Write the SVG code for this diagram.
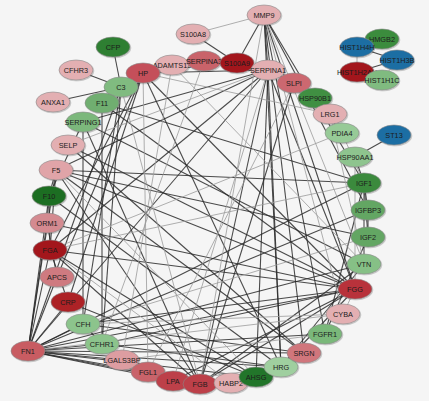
<svg xmlns="http://www.w3.org/2000/svg" width="429" height="401" viewBox="0 0 429 401">
<defs>
<filter id="sh" x="-20%" y="-30%" width="150%" height="170%"><feDropShadow dx="0.8" dy="0.9" stdDeviation="0.7" flood-color="#000" flood-opacity="0.25"/></filter>
</defs>
<style>
.d line{stroke:#2b2b2b;stroke-width:1.1;stroke-opacity:0.85}
.l line{stroke:#9c9c9c;stroke-width:0.9;stroke-opacity:0.9}
.node ellipse{stroke:#8a8a8a;stroke-width:0.6;filter:url(#sh)}
.node text{font-family:"Liberation Sans",Arial,sans-serif;font-size:7.3px;fill:#1c1c1c;text-anchor:middle}
.dg{fill:#2f7f33}.mg{fill:#6fae6f}.lg{fill:#97ca97}.dr{fill:#a3161e}.r{fill:#c4505a}.p{fill:#d48a90}.lp{fill:#e3afb2}.b{fill:#1f6ea3}
</style>
<rect width="429" height="401" fill="#f5f5f5"/>
<g id="connectors">
<g class="d">
<line x1="357" y1="47" x2="382" y2="39"/><line x1="357" y1="47" x2="397" y2="60"/><line x1="357" y1="72" x2="397" y2="60"/><line x1="357" y1="72" x2="382" y2="80"/>
<line x1="394" y1="135" x2="355" y2="157"/>
<line x1="113" y1="47" x2="121" y2="87"/><line x1="76" y1="70" x2="121" y2="87"/><line x1="53" y1="102" x2="121" y2="87"/>
<line x1="121" y1="87" x2="83" y2="324"/><line x1="121" y1="87" x2="102" y2="344"/><line x1="121" y1="87" x2="28" y2="351"/>
<line x1="193" y1="34" x2="237" y2="63"/><line x1="237" y1="63" x2="264" y2="15"/>
<line x1="264" y1="15" x2="268" y2="70"/><line x1="264" y1="15" x2="364" y2="183"/><line x1="264" y1="15" x2="368" y2="210"/><line x1="264" y1="15" x2="355" y2="289"/><line x1="264" y1="15" x2="325" y2="334"/><line x1="264" y1="15" x2="304" y2="353"/><line x1="264" y1="15" x2="281" y2="367"/>
<line x1="268" y1="70" x2="204" y2="61"/><line x1="268" y1="70" x2="143" y2="73"/><line x1="268" y1="70" x2="50" y2="250"/><line x1="268" y1="70" x2="200" y2="384"/><line x1="268" y1="70" x2="355" y2="289"/><line x1="268" y1="70" x2="56" y2="170"/><line x1="268" y1="70" x2="28" y2="351"/><line x1="268" y1="70" x2="83" y2="122"/><line x1="268" y1="70" x2="281" y2="367"/><line x1="268" y1="70" x2="256" y2="377"/><line x1="268" y1="70" x2="294" y2="83"/>
<line x1="143" y1="73" x2="204" y2="61"/><line x1="143" y1="73" x2="57" y2="277"/><line x1="143" y1="73" x2="68" y2="302"/><line x1="143" y1="73" x2="50" y2="250"/><line x1="143" y1="73" x2="355" y2="289"/><line x1="143" y1="73" x2="281" y2="367"/>
<line x1="364" y1="183" x2="368" y2="210"/><line x1="364" y1="183" x2="368" y2="237"/><line x1="364" y1="183" x2="364" y2="264"/><line x1="364" y1="183" x2="355" y2="157"/><line x1="364" y1="183" x2="28" y2="351"/><line x1="364" y1="183" x2="325" y2="334"/><line x1="364" y1="183" x2="56" y2="170"/>
<line x1="368" y1="210" x2="368" y2="237"/><line x1="368" y1="210" x2="28" y2="351"/>
<line x1="368" y1="237" x2="325" y2="334"/>
<line x1="364" y1="264" x2="28" y2="351"/><line x1="364" y1="264" x2="200" y2="384"/><line x1="364" y1="264" x2="281" y2="367"/>
<line x1="50" y1="250" x2="200" y2="384"/><line x1="50" y1="250" x2="355" y2="289"/><line x1="50" y1="250" x2="28" y2="351"/><line x1="50" y1="250" x2="49" y2="196"/><line x1="50" y1="250" x2="56" y2="170"/><line x1="50" y1="250" x2="68" y2="302"/><line x1="50" y1="250" x2="256" y2="377"/>
<line x1="200" y1="384" x2="355" y2="289"/><line x1="200" y1="384" x2="28" y2="351"/><line x1="200" y1="384" x2="56" y2="170"/><line x1="200" y1="384" x2="148" y2="372"/><line x1="200" y1="384" x2="83" y2="122"/><line x1="200" y1="384" x2="294" y2="83"/>
<line x1="355" y1="289" x2="28" y2="351"/><line x1="355" y1="289" x2="56" y2="170"/><line x1="355" y1="289" x2="281" y2="367"/><line x1="355" y1="289" x2="173" y2="381"/><line x1="355" y1="289" x2="102" y2="103"/><line x1="355" y1="289" x2="102" y2="344"/><line x1="355" y1="289" x2="68" y2="145"/><line x1="355" y1="289" x2="47" y2="223"/><line x1="355" y1="289" x2="83" y2="324"/>
<line x1="28" y1="351" x2="57" y2="277"/><line x1="28" y1="351" x2="68" y2="302"/><line x1="28" y1="351" x2="47" y2="223"/><line x1="28" y1="351" x2="49" y2="196"/><line x1="28" y1="351" x2="56" y2="170"/><line x1="28" y1="351" x2="83" y2="324"/><line x1="28" y1="351" x2="102" y2="344"/><line x1="28" y1="351" x2="122" y2="360"/><line x1="28" y1="351" x2="148" y2="372"/><line x1="28" y1="351" x2="173" y2="381"/><line x1="28" y1="351" x2="256" y2="377"/><line x1="28" y1="351" x2="281" y2="367"/><line x1="28" y1="351" x2="304" y2="353"/><line x1="28" y1="351" x2="325" y2="334"/>
<line x1="56" y1="170" x2="49" y2="196"/><line x1="56" y1="170" x2="368" y2="237"/><line x1="56" y1="170" x2="304" y2="353"/>
<line x1="49" y1="196" x2="83" y2="122"/><line x1="49" y1="196" x2="47" y2="223"/><line x1="49" y1="196" x2="281" y2="367"/>
<line x1="281" y1="367" x2="304" y2="353"/><line x1="281" y1="367" x2="102" y2="344"/>
<line x1="83" y1="324" x2="102" y2="344"/><line x1="83" y1="324" x2="304" y2="353"/>
<line x1="256" y1="377" x2="68" y2="302"/>
<line x1="68" y1="145" x2="304" y2="353"/>
<line x1="47" y1="223" x2="57" y2="277"/>
<line x1="315" y1="98" x2="342" y2="133"/>
<line x1="83" y1="122" x2="83" y2="324"/>
<line x1="102" y1="103" x2="102" y2="344"/><line x1="102" y1="103" x2="364" y2="183"/>
<line x1="83" y1="122" x2="364" y2="264"/>
</g>
<g class="l">
<line x1="357" y1="47" x2="357" y2="72"/><line x1="397" y1="60" x2="382" y2="80"/>
<line x1="193" y1="34" x2="264" y2="15"/>
<line x1="264" y1="15" x2="364" y2="264"/><line x1="264" y1="15" x2="343" y2="314"/><line x1="264" y1="15" x2="200" y2="384"/>
<line x1="268" y1="70" x2="173" y2="381"/><line x1="268" y1="70" x2="330" y2="114"/><line x1="268" y1="70" x2="68" y2="145"/>
<line x1="143" y1="73" x2="330" y2="114"/><line x1="143" y1="73" x2="148" y2="372"/>
<line x1="364" y1="183" x2="50" y2="250"/><line x1="364" y1="183" x2="342" y2="133"/>
<line x1="368" y1="237" x2="83" y2="324"/>
<line x1="50" y1="250" x2="231" y2="383"/><line x1="50" y1="250" x2="342" y2="133"/>
<line x1="200" y1="384" x2="121" y2="87"/>
<line x1="355" y1="289" x2="355" y2="157"/><line x1="355" y1="289" x2="343" y2="314"/>
<line x1="28" y1="351" x2="343" y2="314"/>
<line x1="56" y1="170" x2="256" y2="377"/>
<line x1="281" y1="367" x2="173" y2="381"/>
<line x1="83" y1="324" x2="343" y2="314"/>
<line x1="122" y1="360" x2="325" y2="334"/>
<line x1="294" y1="83" x2="148" y2="372"/>
<line x1="330" y1="114" x2="364" y2="264"/>
<line x1="172" y1="65" x2="122" y2="360"/><line x1="172" y1="65" x2="364" y2="264"/>
<line x1="204" y1="61" x2="102" y2="344"/>
</g>
</g>
<g class="node" id="n-MMP9"><ellipse cx="264" cy="15" rx="17" ry="10" class="lp"/><text x="264" y="17.6">MMP9</text></g>
<g class="node" id="n-S100A8"><ellipse cx="193" cy="34" rx="17" ry="10" class="lp"/><text x="193" y="36.6">S100A8</text></g>
<g class="node" id="n-CFP"><ellipse cx="113" cy="47" rx="17" ry="10" class="dg"/><text x="113" y="49.6">CFP</text></g>
<g class="node" id="n-CFHR3"><ellipse cx="76" cy="70" rx="17" ry="10" class="lp"/><text x="76" y="72.6">CFHR3</text></g>
<g class="node" id="n-ADAMTS13"><ellipse cx="172" cy="65" rx="17" ry="10" class="lp"/><text x="172" y="67.6">ADAMTS13</text></g>
<g class="node" id="n-SERPINA3"><ellipse cx="204" cy="61" rx="17" ry="10" class="r" style="fill:#c9646b"/><text x="204" y="63.6">SERPINA3</text></g>
<g class="node" id="n-HP"><ellipse cx="143" cy="73" rx="17" ry="10" class="r"/><text x="143" y="75.6">HP</text></g>
<g class="node" id="n-C3"><ellipse cx="121" cy="87" rx="17" ry="10" class="mg" style="fill:#80bb80"/><text x="121" y="89.6">C3</text></g>
<g class="node" id="n-ANXA1"><ellipse cx="53" cy="102" rx="17" ry="10" class="lp"/><text x="53" y="104.6">ANXA1</text></g>
<g class="node" id="n-F11"><ellipse cx="102" cy="103" rx="17" ry="10" class="mg"/><text x="102" y="105.6">F11</text></g>
<g class="node" id="n-SERPING1"><ellipse cx="83" cy="122" rx="17" ry="10" class="mg" style="fill:#7cb87c"/><text x="83" y="124.6">SERPING1</text></g>
<g class="node" id="n-S100A9"><ellipse cx="237" cy="63" rx="17" ry="10" class="dr"/><text x="237" y="65.6">S100A9</text></g>
<g class="node" id="n-SERPINA1"><ellipse cx="268" cy="70" rx="17" ry="10" class="lp"/><text x="268" y="72.6">SERPINA1</text></g>
<g class="node" id="n-SLPI"><ellipse cx="294" cy="83" rx="17" ry="10" class="r" style="fill:#cc6870"/><text x="294" y="85.6">SLPI</text></g>
<g class="node" id="n-HSP90B1"><ellipse cx="315" cy="98" rx="17" ry="10" class="dg" style="fill:#3f8f42"/><text x="315" y="100.6">HSP90B1</text></g>
<g class="node" id="n-LRG1"><ellipse cx="330" cy="114" rx="17" ry="10" class="lp"/><text x="330" y="116.6">LRG1</text></g>
<g class="node" id="n-PDIA4"><ellipse cx="342" cy="133" rx="17" ry="10" class="lg"/><text x="342" y="135.6">PDIA4</text></g>
<g class="node" id="n-HMGB2"><ellipse cx="382" cy="39" rx="17" ry="10" class="dg" style="fill:#3a8c3c"/><text x="382" y="41.6">HMGB2</text></g>
<g class="node" id="n-HIST1H4H"><ellipse cx="357" cy="47" rx="17" ry="10" class="b"/><text x="357" y="49.6">HIST1H4H</text></g>
<g class="node" id="n-HIST1H3B"><ellipse cx="397" cy="60" rx="17" ry="10" class="b"/><text x="397" y="62.6">HIST1H3B</text></g>
<g class="node" id="n-HIST1H2AH"><ellipse cx="357" cy="72" rx="17" ry="10" class="dr"/><text x="357" y="74.6">HIST1H2AH</text></g>
<g class="node" id="n-HIST1H1C"><ellipse cx="382" cy="80" rx="17" ry="10" class="mg" style="fill:#80bb80"/><text x="382" y="82.6">HIST1H1C</text></g>
<g class="node" id="n-ST13"><ellipse cx="394" cy="135" rx="17" ry="10" class="b"/><text x="394" y="137.6">ST13</text></g>
<g class="node" id="n-HSP90AA1"><ellipse cx="355" cy="157" rx="17" ry="10" class="lg" style="fill:#8ec48e"/><text x="355" y="159.6">HSP90AA1</text></g>
<g class="node" id="n-IGF1"><ellipse cx="364" cy="183" rx="17" ry="10" class="dg" style="fill:#3a8a3e"/><text x="364" y="185.6">IGF1</text></g>
<g class="node" id="n-IGFBP3"><ellipse cx="368" cy="210" rx="17" ry="10" class="mg" style="fill:#64a664"/><text x="368" y="212.6">IGFBP3</text></g>
<g class="node" id="n-IGF2"><ellipse cx="368" cy="237" rx="17" ry="10" class="mg" style="fill:#64a664"/><text x="368" y="239.6">IGF2</text></g>
<g class="node" id="n-VTN"><ellipse cx="364" cy="264" rx="17" ry="10" class="lg" style="fill:#86c086"/><text x="364" y="266.6">VTN</text></g>
<g class="node" id="n-SELP"><ellipse cx="68" cy="145" rx="17" ry="10" class="lp"/><text x="68" y="147.6">SELP</text></g>
<g class="node" id="n-F5"><ellipse cx="56" cy="170" rx="17" ry="10" class="lp" style="fill:#e0a4a8"/><text x="56" y="172.6">F5</text></g>
<g class="node" id="n-F10"><ellipse cx="49" cy="196" rx="17" ry="10" class="dg" style="fill:#1f6e20"/><text x="49" y="198.6">F10</text></g>
<g class="node" id="n-ORM1"><ellipse cx="47" cy="223" rx="17" ry="10" class="p"/><text x="47" y="225.6">ORM1</text></g>
<g class="node" id="n-FGA"><ellipse cx="50" cy="250" rx="17" ry="10" class="dr"/><text x="50" y="252.6">FGA</text></g>
<g class="node" id="n-APCS"><ellipse cx="57" cy="277" rx="17" ry="10" class="p" style="fill:#cf7a80"/><text x="57" y="279.6">APCS</text></g>
<g class="node" id="n-CRP"><ellipse cx="68" cy="302" rx="17" ry="10" class="dr" style="fill:#ad2128"/><text x="68" y="304.6">CRP</text></g>
<g class="node" id="n-CFH"><ellipse cx="83" cy="324" rx="17" ry="10" class="lg" style="fill:#8cc48c"/><text x="83" y="326.6">CFH</text></g>
<g class="node" id="n-CFHR1"><ellipse cx="102" cy="344" rx="17" ry="10" class="lg" style="fill:#8cc48c"/><text x="102" y="346.6">CFHR1</text></g>
<g class="node" id="n-FN1"><ellipse cx="28" cy="351" rx="17" ry="10" class="r" style="fill:#c85c62"/><text x="28" y="353.6">FN1</text></g>
<g class="node" id="n-LGALS3BP"><ellipse cx="122" cy="360" rx="17" ry="10" class="lp" style="fill:#dd9da1"/><text x="122" y="362.6">LGALS3BP</text></g>
<g class="node" id="n-FGL1"><ellipse cx="148" cy="372" rx="17" ry="10" class="p" style="fill:#c9646b"/><text x="148" y="374.6">FGL1</text></g>
<g class="node" id="n-LPA"><ellipse cx="173" cy="381" rx="17" ry="10" class="r" style="fill:#bd3f48"/><text x="173" y="383.6">LPA</text></g>
<g class="node" id="n-FGB"><ellipse cx="200" cy="384" rx="17" ry="10" class="r" style="fill:#bd3f48"/><text x="200" y="386.6">FGB</text></g>
<g class="node" id="n-HABP2"><ellipse cx="231" cy="383" rx="17" ry="10" class="lp"/><text x="231" y="385.6">HABP2</text></g>
<g class="node" id="n-AHSG"><ellipse cx="256" cy="377" rx="17" ry="10" class="dg" style="fill:#24752a"/><text x="256" y="379.6">AHSG</text></g>
<g class="node" id="n-HRG"><ellipse cx="281" cy="367" rx="17" ry="10" class="lg" style="fill:#9fcf9f"/><text x="281" y="369.6">HRG</text></g>
<g class="node" id="n-SRGN"><ellipse cx="304" cy="353" rx="17" ry="10" class="p" style="fill:#d0767c"/><text x="304" y="355.6">SRGN</text></g>
<g class="node" id="n-FGFR1"><ellipse cx="325" cy="334" rx="17" ry="10" class="mg" style="fill:#7ab87a"/><text x="325" y="336.6">FGFR1</text></g>
<g class="node" id="n-CYBA"><ellipse cx="343" cy="314" rx="17" ry="10" class="lp"/><text x="343" y="316.6">CYBA</text></g>
<g class="node" id="n-FGG"><ellipse cx="355" cy="289" rx="17" ry="10" class="r" style="fill:#b8323b"/><text x="355" y="291.6">FGG</text></g>
</svg>
